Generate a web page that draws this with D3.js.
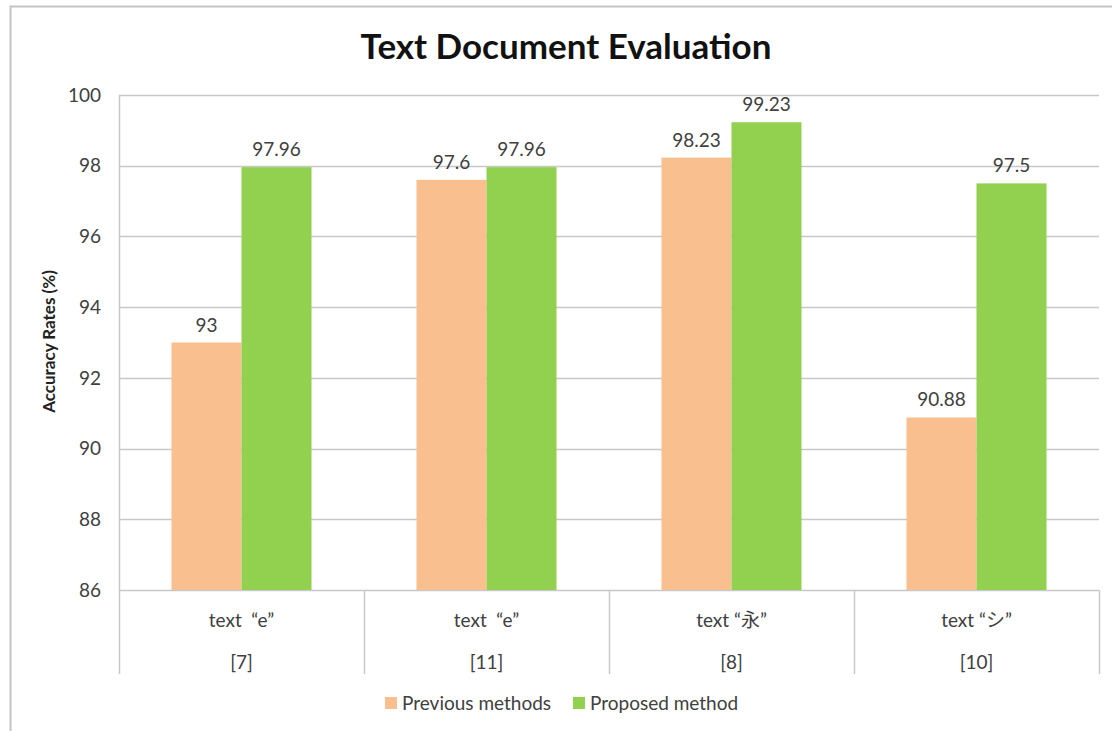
<!DOCTYPE html>
<html>
<head>
<meta charset="utf-8">
<script src="https://cdn.jsdelivr.net/npm/d3@7"></script>
<style>
  body { margin: 0; background: #fff; }
  svg text { font-family: Lato, "Open Sans", "Noto Sans CJK JP", sans-serif; }
</style>
</head>
<body>
<div id="chart"></div>
<script>
// data
var categories = ["text\u2002\u201ce\u201d", "text\u2002\u201ce\u201d", "text \u201c\u6c38\u201d", "text \u201c\u30b7\u201d"];
var refs = ["[7]", "[11]", "[8]", "[10]"];
var seriesNames = ["Previous methods", "Proposed method"];
var previous = [93, 97.6, 98.23, 90.88];
var proposed = [97.96, 97.96, 99.23, 97.5];
var yTicks = [86, 88, 90, 92, 94, 96, 98, 100];

var width = 1112, height = 731;
var colors = ["#f9bf8f", "#92d050"];

var svg = d3.select("#chart").append("svg")
    .attr("width", width)
    .attr("height", height);

// outer frame (cropped)
svg.append("path")
    .attr("d", "M10.5,731 V6.5 H1112")
    .attr("fill", "none")
    .attr("stroke", "#c4c4c4")
    .attr("stroke-width", 2);

var pLeft = 119, pRight = 1099, pTop = 95, pBottom = 590;

var x = d3.scaleBand()
    .domain(d3.range(categories.length))
    .range([pLeft, pRight]);

var xInner = d3.scaleBand()
    .domain([0, 1])
    .range([0, x.bandwidth()])
    .paddingOuter(0.75)
    .paddingInner(0);

var y = d3.scaleLinear()
    .domain([86, 100])
    .range([pBottom, pTop]);

// gridlines
svg.append("g")
    .selectAll("line")
    .data(yTicks)
    .enter().append("line")
    .attr("x1", pLeft)
    .attr("x2", pRight)
    .attr("y1", d => Math.round(y(d)) + 0.5)
    .attr("y2", d => Math.round(y(d)) + 0.5)
    .attr("stroke", "#c8c8c8")
    .attr("stroke-width", 1.5);

// y axis line
svg.append("line")
    .attr("x1", pLeft + 0.5).attr("x2", pLeft + 0.5)
    .attr("y1", pTop).attr("y2", pBottom)
    .attr("stroke", "#c8c8c8")
    .attr("stroke-width", 1.5);

// category separators
svg.append("g")
    .selectAll("line")
    .data(d3.range(categories.length + 1))
    .enter().append("line")
    .attr("x1", d => Math.round(pLeft + d * x.bandwidth()) + 0.5)
    .attr("x2", d => Math.round(pLeft + d * x.bandwidth()) + 0.5)
    .attr("y1", pBottom)
    .attr("y2", 674)
    .attr("stroke", "#c8c8c8")
    .attr("stroke-width", 1.5);

// y tick labels
svg.append("g")
    .selectAll("text")
    .data(yTicks)
    .enter().append("text")
    .attr("x", 101)
    .attr("y", d => y(d))
    .attr("dy", "0.35em")
    .attr("text-anchor", "end")
    .attr("font-size", 19)
    .attr("fill", "#404040")
    .text(d => d);

// bars
var series = [previous, proposed];
series.forEach(function(vals, s) {
    var g = svg.append("g");
    g.selectAll("rect")
        .data(vals)
        .enter().append("rect")
        .attr("x", (d, i) => x(i) + xInner(s))
        .attr("y", d => y(d))
        .attr("width", xInner.bandwidth())
        .attr("height", d => pBottom - y(d))
        .attr("fill", colors[s]);

    g.selectAll("text")
        .data(vals)
        .enter().append("text")
        .attr("x", (d, i) => x(i) + xInner(s) + xInner.bandwidth() / 2)
        .attr("y", d => y(d) - 11)
        .attr("text-anchor", "middle")
        .attr("font-size", 19)
        .attr("fill", "#404040")
        .text(d => d);
});

// category labels
svg.append("g")
    .selectAll("text")
    .data(categories)
    .enter().append("text")
    .attr("x", (d, i) => x(i) + x.bandwidth() / 2)
    .attr("y", 627)
    .attr("text-anchor", "middle")
    .attr("font-size", 19)
    .attr("fill", "#404040")
    .text(d => d);

svg.append("g")
    .selectAll("text")
    .data(refs)
    .enter().append("text")
    .attr("x", (d, i) => x(i) + x.bandwidth() / 2)
    .attr("y", 669)
    .attr("text-anchor", "middle")
    .attr("font-size", 19)
    .attr("fill", "#404040")
    .text(d => d);

// title
svg.append("text")
    .attr("x", 566)
    .attr("y", 59)
    .attr("text-anchor", "middle")
    .attr("font-size", 35)
    .attr("font-weight", "bold")
    .attr("fill", "#111")
    .text("Text Document Evaluation");

// y axis title
svg.append("text")
    .attr("transform", "translate(55," + ((pTop + pBottom) / 2 - 1) + ") rotate(-90)")
    .attr("text-anchor", "middle")
    .attr("font-size", 17)
    .attr("font-weight", "bold")
    .attr("fill", "#222")
    .text("Accuracy Rates (%)");

// legend
var legendX = [385, 573];
var legend = svg.append("g")
    .selectAll("g")
    .data(seriesNames)
    .enter().append("g")
    .attr("transform", (d, i) => "translate(" + legendX[i] + ",697)");

legend.append("rect")
    .attr("width", 12)
    .attr("height", 12)
    .attr("fill", (d, i) => colors[i]);

legend.append("text")
    .attr("x", 17)
    .attr("y", 6)
    .attr("dy", "0.35em")
    .attr("font-size", 19)
    .attr("fill", "#404040")
    .text(d => d);
</script>
</body>
</html>
